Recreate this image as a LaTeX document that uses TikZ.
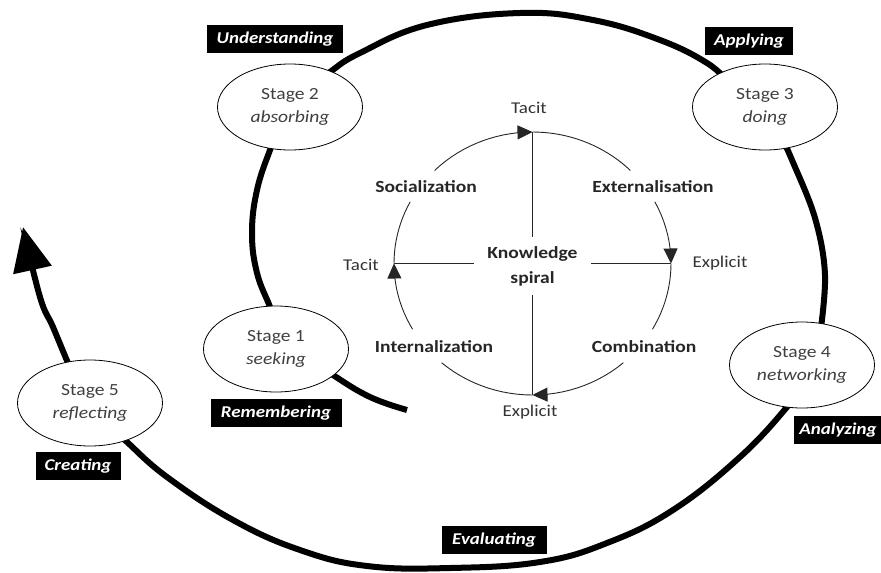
\documentclass[tikz,border=0pt]{standalone}
\usepackage{fontspec}
\setmainfont{Carlito}[FakeStretch=1.15]
\usetikzlibrary{arrows.meta,shapes.geometric}
\tikzset{
  stagenode/.style={ellipse, draw=black, line width=0.8pt, fill=white,
    minimum width=145pt, minimum height=86pt, inner sep=0pt, align=center,
    text=black!75, font=\fontsize{17}{23}\selectfont},
  tagbox/.style={fill=black, text=white, inner sep=0pt, minimum height=28pt,
    font=\fontsize{16.5}{18}\selectfont\bfseries\itshape},
  spiralline/.style={line width=6pt, draw=black},
  thinline/.style={line width=0.9pt, draw=black!85},
  quadarrow/.style={-{Triangle[length=15pt,width=14pt]}},
  boldlabel/.style={text=black!85, font=\fontsize{17}{25}\selectfont\bfseries},
  plainlabel/.style={text=black!80, font=\fontsize{16.5}{20}\selectfont},
}
\begin{document}
\begin{tikzpicture}[x=1pt,y=-1pt]
\useasboundingbox (0,0) rectangle (881,573);
\def\cx{532.5}\def\cy{263.5}\def\rx{138.5}\def\ry{131.5}

% outer spiral (drawn below the stage ellipses)
\draw[spiralline] plot[smooth,tension=0.7] coordinates {(407,410) (370,397) (333,375) (305,355)};
\draw[spiralline] plot[smooth,tension=0.7] coordinates {(274,322) (270,307) (257,273) (252,233) (257,190) (270,150) (278,132)};
\draw[spiralline] plot[smooth,tension=0.7] coordinates {(305,92) (330,72) (360,53) (427,25) (520,13) (593,20) (660,40) (707,63) (728,82)};
\draw[spiralline] plot[smooth,tension=0.6] coordinates {(776,125) (792,160) (815,218) (825,275) (820,335)};
\draw[spiralline] plot[smooth,tension=0.7] coordinates {(797,390) (787,407) (740,457) (673,510) (607,543) (540,562) (450,568) (367,566) (300,550) (233,520) (167,477) (127,442) (108,424)};
\draw[spiralline,-{Triangle[length=44pt,width=38pt]}] plot[smooth,tension=0.7] coordinates {(78,385) (68,363) (53,327) (40,297) (23,227)};

% stage nodes
\node[stagenode] (s1) at (276,349) {Stage 1\\\textit{seeking}};
\node[stagenode] (s2) at (290,107) {Stage 2\\\textit{absorbing}};
\node[stagenode] (s3) at (765,107) {Stage 3\\\textit{doing}};
\node[stagenode] (s4) at (802,365) {Stage 4\\\textit{networking}};
\node[stagenode] (s5) at (90,403) {Stage 5\\\textit{reflecting}};

% tag boxes
\node[tagbox, minimum width=136pt] (tU) at (275,39) {Understanding};
\node[tagbox, minimum width=88pt] (tA) at (749,41) {Applying};
\node[tagbox, minimum width=131pt] (tR) at (276,413) {Remembering};
\node[tagbox, minimum width=88pt, inner xsep=2pt] (tN) at (838,430) {Analyzing};
\node[tagbox, minimum width=85pt] (tC) at (78,466) {Creating};
\node[tagbox, minimum width=105pt] (tE) at (494,540) {Evaluating};

% inner knowledge cycle
\coordinate (qT) at (\cx,\cy-\ry);
\coordinate (qR) at (\cx+\rx,\cy);
\coordinate (qB) at (\cx,\cy+\ry);
\coordinate (qL) at (\cx-\rx,\cy);
\draw[thinline] plot[domain=-90:-45,samples=20] ({\cx+\rx*cos(\x)},{\cy+\ry*sin(\x)});
\draw[thinline,quadarrow] plot[domain=-28:0,samples=10] ({\cx+\rx*cos(\x)},{\cy+\ry*sin(\x)});
\draw[thinline] plot[domain=0:30,samples=12] ({\cx+\rx*cos(\x)},{\cy+\ry*sin(\x)});
\draw[thinline,quadarrow] plot[domain=49:90,samples=14] ({\cx+\rx*cos(\x)},{\cy+\ry*sin(\x)});
\draw[thinline] plot[domain=90:131,samples=14] ({\cx+\rx*cos(\x)},{\cy+\ry*sin(\x)});
\draw[thinline,quadarrow] plot[domain=150:180,samples=12] ({\cx+\rx*cos(\x)},{\cy+\ry*sin(\x)});
\draw[thinline] plot[domain=180:208,samples=12] ({\cx+\rx*cos(\x)},{\cy+\ry*sin(\x)});
\draw[thinline,quadarrow] plot[domain=225:270,samples=16] ({\cx+\rx*cos(\x)},{\cy+\ry*sin(\x)});

\node[boldlabel, align=center, minimum width=116pt, minimum height=58pt, inner sep=0pt] (ks) at (\cx,266) {Knowledge\\spiral};
\draw[thinline] (qT) -- (qT |- ks.north);
\draw[thinline] (qB) -- (qB |- ks.south);
\draw[thinline] (qL) -- (qL -| ks.west);
\draw[thinline] (qR) -- (qR -| ks.east);

\node[plainlabel] (lT) at (529,108) {Tacit};
\node[plainlabel] (lL) at (361,265) {Tacit};
\node[plainlabel] (lR) at (720,263) {Explicit};
\node[plainlabel] (lB) at (530,412) {Explicit};
\node[boldlabel] (soc) at (426,187) {Socialization};
\node[boldlabel] (ext) at (653,187) {Externalisation};
\node[boldlabel] (int) at (434,347) {Internalization};
\node[boldlabel] (com) at (644,347) {Combination};
\end{tikzpicture}
\end{document}
